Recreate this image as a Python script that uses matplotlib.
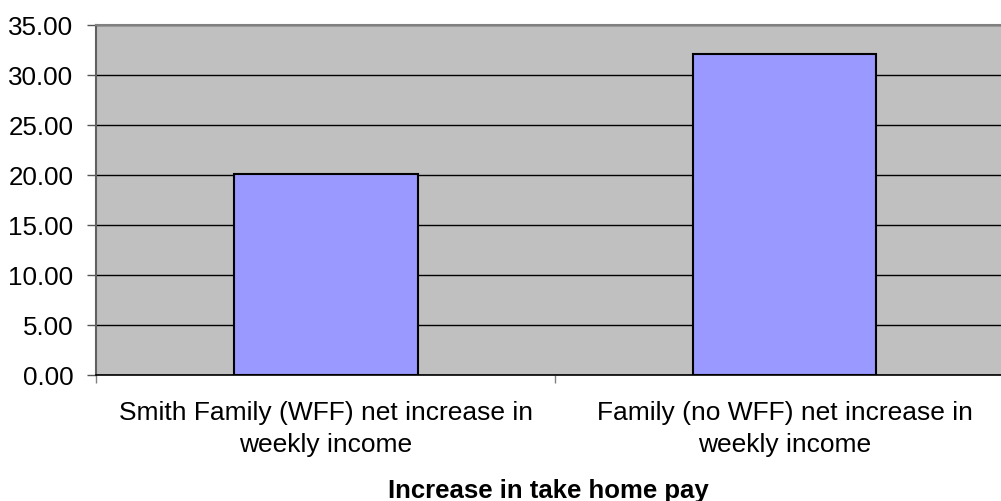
import matplotlib
matplotlib.use("Agg")
import matplotlib.pyplot as plt
import numpy as np

plt.rcParams['font.family'] = ['Liberation Sans', 'DejaVu Sans']

categories = ["Smith Family (WFF) net increase in\nweekly income",
              "Family (no WFF) net increase in\nweekly income"]
values = [20.1, 32.1]
yticks = [0, 5, 10, 15, 20, 25, 30, 35]
x_title = "Increase in take home pay"

fig = plt.figure(figsize=(10.01, 5.02), dpi=100)
ax = fig.add_axes([0.0964, 0.2510, 0.9166, 0.6982])
ax.set_facecolor('#C0C0C0')

x = np.arange(len(categories))
ax.bar(x, values, width=0.4, color='#9999FF', edgecolor='black', linewidth=1.5, zorder=3)

ax.set_xlim(-0.5, len(categories) - 0.5)
ax.set_ylim(0, 35)
ax.set_yticks(yticks)
ax.set_yticklabels(["%.2f" % v for v in yticks], fontsize=18.7)
ax.yaxis.grid(True, color='black', linewidth=1.0, zorder=1)
ax.set_axisbelow(True)
ax.tick_params(axis='y', direction='out', length=6.5, width=1, color='#555555', pad=10)

ax.set_xticks(x)
ax.set_xticklabels(categories, fontsize=19, linespacing=1.4)
ax.tick_params(axis='x', which='major', length=0, pad=18)
ax.set_xticks(np.arange(-0.5, len(categories), 1.0), minor=True)
ax.tick_params(axis='x', which='minor', direction='out', length=6, width=1, color='#808080')

ax.spines['right'].set_visible(False)
ax.spines['top'].set_color('#808080')
ax.spines['top'].set_linewidth(1.5)
ax.spines['left'].set_color('#606060')
ax.spines['left'].set_linewidth(1.5)
ax.spines['bottom'].set_color('black')
ax.spines['bottom'].set_linewidth(1.2)

fig.text(548.5 / 1001, 1 - 498 / 502, x_title, ha='center', va='baseline',
         fontsize=18.5, fontweight='bold')

fig.savefig("out.png", dpi=100)
